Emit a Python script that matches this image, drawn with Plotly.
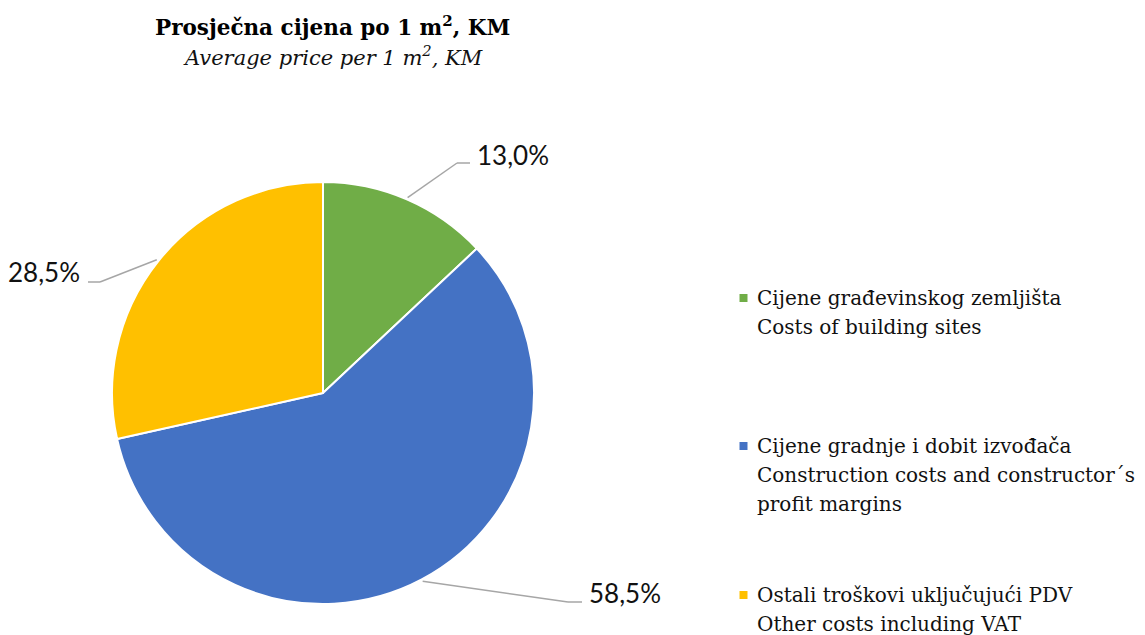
import math
import plotly.graph_objects as go

# ---- data ----
categories = [
    ["Cijene građevinskog zemljišta", "Costs of building sites"],
    ["Cijene gradnje i dobit izvođača", "Construction costs and constructor´s", "profit margins"],
    ["Ostali troškovi uključujući PDV", "Other costs including VAT"],
]
values = [13.0, 58.5, 28.5]
value_labels = ["13,0%", "58,5%", "28,5%"]
colors = ["#70AD47", "#4472C4", "#FFC000"]
title_main = "<b>Prosječna cijena po 1 m<sup>2</sup>, KM</b>"
title_sub = "<i>Average price per 1 m<sup>2</sup>, KM</i>"

# ---- layout constants (pixel positions in the screenshot) ----
W, H = 1145, 635
OFF = 8  # page body margin
CX, CY, R = 323, 393, 211
# label text anchor (px) and xanchor
label_pos = [(475, 155, "left"), (587, 593, "left"), (82, 272, "right")]
# elbow point (x, y) and end of horizontal segment x
elbow_pos = [(457, 163, 470), (568, 602, 582), (100, 282, 88)]
legend_text_x = 755
legend_sq_x = 743.5
legend_first_y = [298, 446, 595]
legend_pitch = 29

def px(x):
    return (x - OFF) / W

def py(y):
    return 1 - (y - OFF) / H

fig = go.Figure()
fig.add_trace(go.Pie(
    values=values,
    labels=[c[0] for c in categories],
    marker=dict(colors=colors, line=dict(color="white", width=2)),
    sort=False,
    direction="clockwise",
    rotation=0,
    textinfo="none",
    hoverinfo="label+percent",
    showlegend=False,
    domain=dict(x=[px(CX - R), px(CX + R)], y=[py(CY + R), py(CY - R)]),
))

shapes = []
annotations = []
total = sum(values)
cum = 0.0
for i, v in enumerate(values):
    mid = (cum + v / 2) / total * 2 * math.pi
    cum += v
    sx = CX + (R + 2) * math.sin(mid)
    sy = CY - (R + 2) * math.cos(mid)
    ex, ey, hx = elbow_pos[i]
    shapes.append(dict(type="line", xref="paper", yref="paper",
                       x0=px(sx), y0=py(sy), x1=px(ex), y1=py(ey),
                       line=dict(color="#A6A6A6", width=1.5)))
    shapes.append(dict(type="line", xref="paper", yref="paper",
                       x0=px(ex), y0=py(ey), x1=px(hx), y1=py(ey),
                       line=dict(color="#A6A6A6", width=1.5)))
    lx, ly, anc = label_pos[i]
    annotations.append(dict(text=value_labels[i], x=px(lx), y=py(ly),
                            xref="paper", yref="paper", xanchor=anc, yanchor="middle",
                            showarrow=False,
                            font=dict(family="Lato, Liberation Sans, sans-serif", size=26, color="#111111")))
    # legend entry: one annotation per line
    for j, line in enumerate(categories[i]):
        annotations.append(dict(text=line, x=px(legend_text_x), y=py(legend_first_y[i] + j * legend_pitch),
                                xref="paper", yref="paper", xanchor="left", yanchor="middle",
                                align="left", showarrow=False,
                                font=dict(family="DejaVu Serif, serif", size=20, color="#111111")))
    shapes.append(dict(type="rect", xref="paper", yref="paper",
                       x0=px(legend_sq_x - 4), x1=px(legend_sq_x + 4),
                       y0=py(legend_first_y[i] + 4), y1=py(legend_first_y[i] - 4),
                       fillcolor=colors[i], line=dict(width=0)))

annotations.append(dict(text=title_main, x=px(332), y=py(26),
                        xref="paper", yref="paper", xanchor="center", yanchor="middle",
                        showarrow=False, font=dict(family="DejaVu Serif, serif", size=21.5, color="black")))
annotations.append(dict(text=title_sub, x=px(333), y=py(56),
                        xref="paper", yref="paper", xanchor="center", yanchor="middle",
                        showarrow=False, font=dict(family="DejaVu Serif, serif", size=21, color="#111111")))

fig.update_layout(
    width=W, height=H,
    margin=dict(l=0, r=0, t=0, b=0),
    paper_bgcolor="white", plot_bgcolor="white",
    shapes=shapes, annotations=annotations,
    showlegend=False,
)
fig.write_html("out.html")
